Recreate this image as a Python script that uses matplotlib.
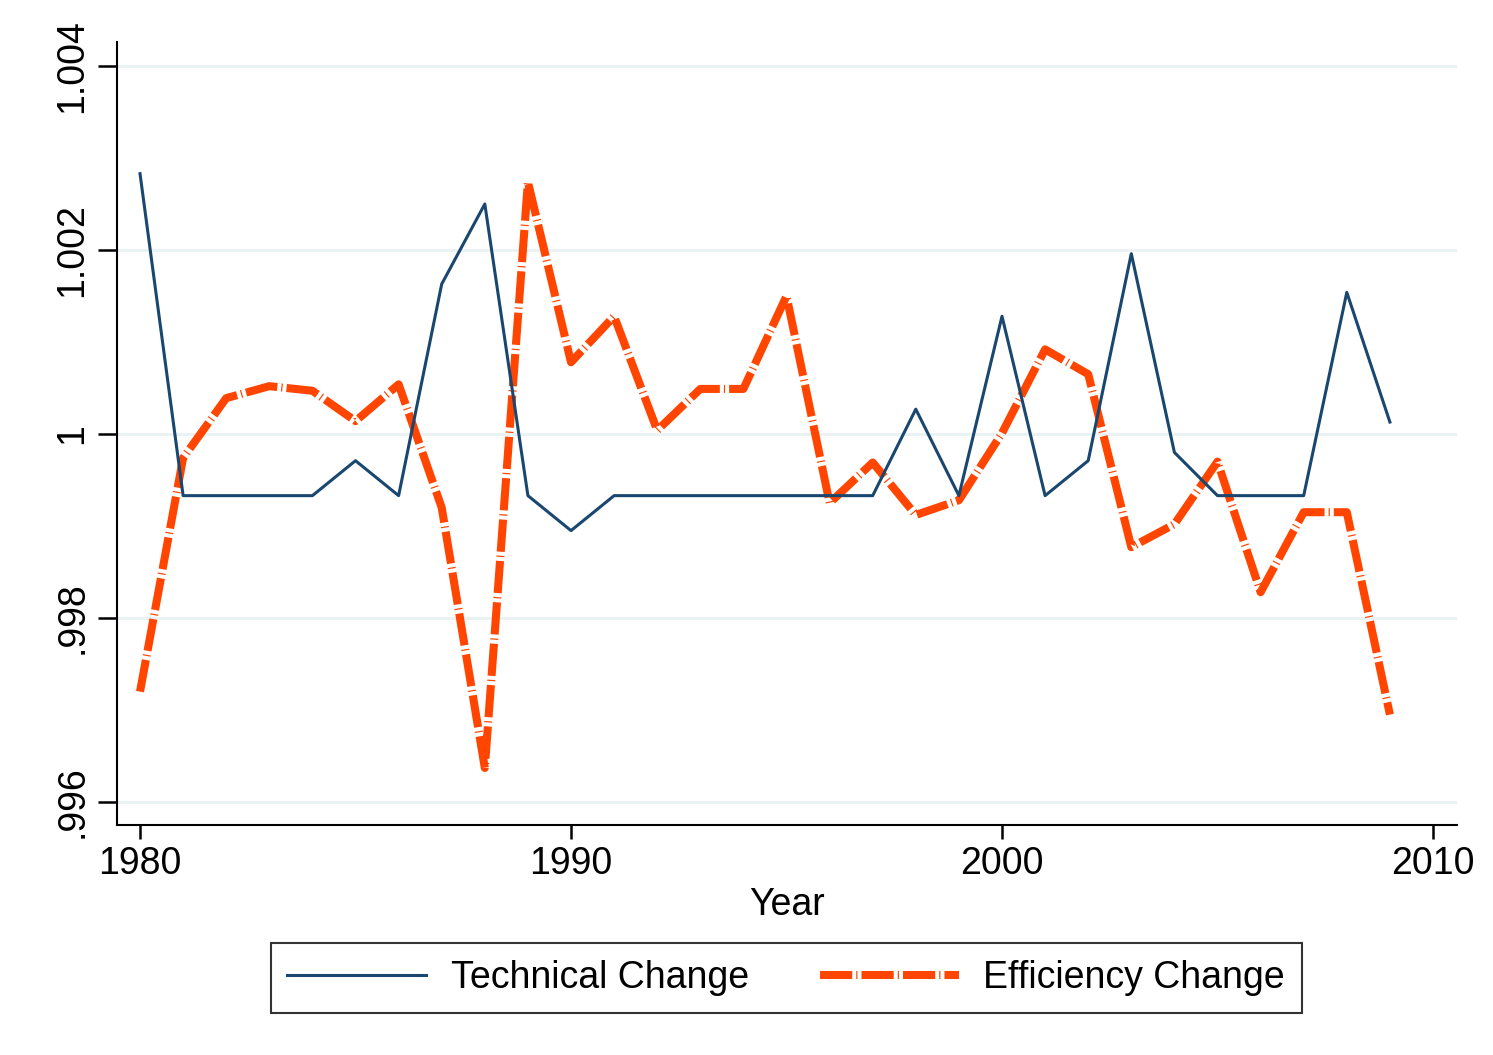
import matplotlib
matplotlib.use("Agg")
import matplotlib.pyplot as plt
from matplotlib.ticker import FixedLocator

plt.rcParams['font.family'] = ['Liberation Sans', 'DejaVu Sans']

years = list(range(1980, 2010))

# Technical change
tech = [1.00283, 0.99933, 0.99933, 0.99933, 0.99933, 0.99971, 0.99933, 1.00163,
        1.00250, 0.99933, 0.99895, 0.99933, 0.99933, 0.99933, 0.99933, 0.99933,
        0.99933, 0.99933, 1.00027, 0.99933, 1.00128, 0.99933, 0.99971, 1.00196,
        0.99980, 0.99933, 0.99933, 0.99933, 1.00154, 1.00013]

# Efficiency change
eff = [0.99720, 0.99974, 1.00039, 1.00052, 1.00047, 1.00014, 1.00054, 0.99920,
       0.99637, 1.00274, 1.00078, 1.00128, 1.00004, 1.00049, 1.00049, 1.00150,
       0.99925, 0.99969, 0.99912, 0.99928, 1.00001, 1.00092, 1.00065, 0.99877,
       0.99902, 0.99970, 0.99828, 0.99915, 0.99915, 0.99695]

yticks = [0.996, 0.998, 1.0, 1.002, 1.004]
yticklabels = ['.996', '.998', '1', '1.002', '1.004']
xticks = [1980, 1990, 2000, 2010]

fs = 27

fig = plt.figure(figsize=(14.93, 10.55), dpi=100)
ax = fig.add_axes([117/1493, 1 - 825/1055, (1457-117)/1493, (825-42)/1055])

for t in yticks:
    ax.axhline(t, color='#eaf2f3', lw=2.2, zorder=0)

ax.plot(years, tech, color='#1a476f', lw=2.2, label='Technical Change', zorder=3)
ax.plot(years, eff, color='#ff4500', lw=5.8, label='Efficiency Change',
        linestyle=(0, (4.0, 0.5, 0.15, 0.5)), zorder=2)

ax.set_xlim(1979.466, 2010.557)
ax.set_ylim(0.99575, 1.004261)
ax.yaxis.set_major_locator(FixedLocator(yticks))
ax.set_yticklabels(yticklabels, rotation=90, va='center', fontsize=fs)
ax.set_xticks(xticks)
ax.set_xticklabels([str(x) for x in xticks], fontsize=fs)
ax.tick_params(axis='both', length=14, width=1.8, direction='out', pad=5)
ax.tick_params(axis='x', length=10, pad=5)
ax.spines['top'].set_visible(False)
ax.spines['right'].set_visible(False)
ax.spines['left'].set_linewidth(1.5)
ax.spines['bottom'].set_linewidth(1.5)
ax.set_xlabel('Year', fontsize=fs, labelpad=4)

leg = fig.legend(loc='center', bbox_to_anchor=(786/1493, 1 - 978/1055), ncol=2,
                 fontsize=fs, frameon=True, fancybox=False, handlelength=3.7,
                 columnspacing=1.9, borderpad=0.45, handletextpad=0.65,
                 borderaxespad=0)
leg.get_frame().set_edgecolor('black')
leg.get_frame().set_linewidth(1.5)

fig.savefig('out.png', dpi=100)
